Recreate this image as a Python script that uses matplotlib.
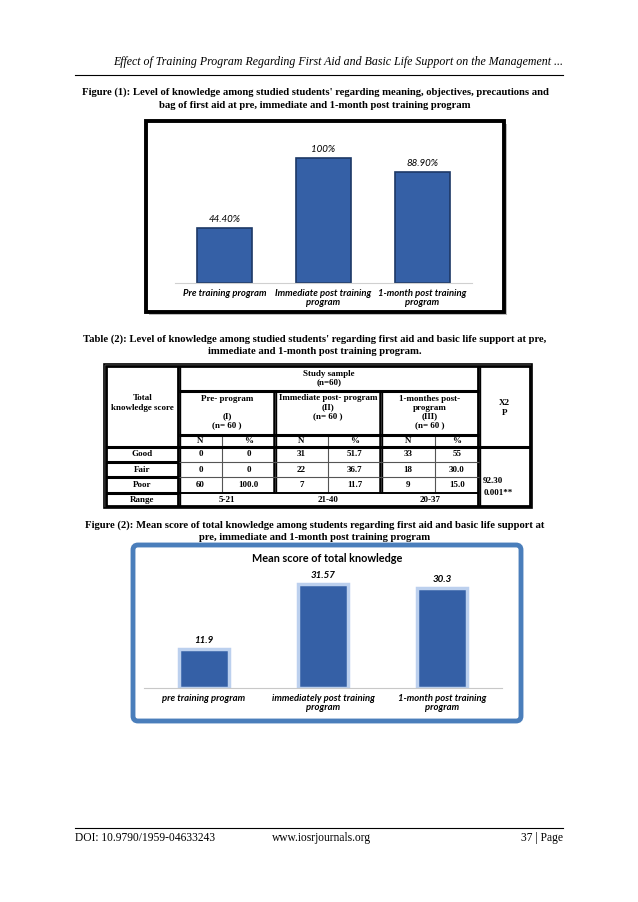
import matplotlib.pyplot as plt
from matplotlib.patches import Rectangle, FancyBboxPatch

# donnees figure 1
cat1 = ['Pre training program', 'Immediate post training\nprogram', '1-month post training\nprogram']
val1 = [44.4, 100, 88.9]
lab1 = ['44.40%', '100%', '88.90%']

# donnees tableau 2
rows = ['Good', 'Fair', 'Poor']
pre_n = ['0', '0', '60']
pre_pct = ['0', '0', '100.0']
imm_n = ['31', '22', '7']
imm_pct = ['51.7', '36.7', '11.7']
mon_n = ['33', '18', '9']
mon_pct = ['55', '30.0', '15.0']
ranges = ['5-21', '21-40', '20-37']
chi2 = '92.30'
pval = '0.001**'

# donnees figure 2
cat2 = ['pre training program', 'immediately post training\nprogram', '1-month post training\nprogram']
val2 = [11.9, 31.57, 30.3]
lab2 = ['11.9', '31.57', '30.3']

W, H = 638, 902
SERIF = 'Liberation Serif'
SANS = 'Lato'
BLUE = '#3560A6'

fig = plt.figure(figsize=(W / 100, H / 100), dpi=100)
page = fig.add_axes([0, 0, 1, 1])
page.set_xlim(0, W)
page.set_ylim(H, 0)
page.axis('off')


def box_axes(l, t, r, b):
    return fig.add_axes([l / W, 1 - b / H, (r - l) / W, (b - t) / H])


# entete et pied de page
page.text(563, 62, 'Effect of Training Program Regarding First Aid and Basic Life Support on the Management ...',
          family=SERIF, style='italic', fontsize=8.6, ha='right', va='center')
page.plot([75, 563], [75, 75], color='black', lw=0.8)
page.plot([75, 563], [828, 828], color='black', lw=0.8)
page.text(75, 838, 'DOI: 10.9790/1959-04633243', family=SERIF, fontsize=8.3, ha='left', va='center')
page.text(322, 838, 'www.iosrjournals.org', family=SERIF, fontsize=8.3, ha='center', va='center')
page.text(563, 838, '37 | Page', family=SERIF, fontsize=8.3, ha='right', va='center')

# legendes
cap = dict(family=SERIF, weight='bold', fontsize=7.7, ha='center', va='center')
page.text(315, 92, "Figure (1): Level of knowledge among studied students' regarding meaning, objectives, precautions and", **cap)
page.text(315, 105, 'bag of first aid at pre, immediate and 1-month post training program', **cap)
page.text(315, 339, "Table (2): Level of knowledge among studied students' regarding first aid and basic life support at pre,", **cap)
page.text(315, 352, 'immediate and 1-month post training program.', **cap)
page.text(315, 525, 'Figure (2): Mean score of total knowledge among students regarding first aid and basic life support at', **cap)
page.text(315, 538, 'pre, immediate and 1-month post training program', **cap)

# cadre figure 1
page.add_patch(Rectangle((149, 124), 358, 191, facecolor='#bbbbbb', edgecolor='none'))
page.add_patch(Rectangle((146, 121), 358, 191, facecolor='white', edgecolor='black', lw=2.8))

ax1 = box_axes(175, 140, 472, 283)
x = range(len(val1))
ax1.bar(x, val1, width=0.56, color=BLUE, edgecolor='#1d3866', lw=1.2)
for i, v in enumerate(val1):
    ax1.text(i, v + 3, lab1[i], ha='center', va='bottom', family=SANS, style='italic', fontsize=7)
ax1.set_xlim(-0.5, 2.5)
ax1.set_ylim(0, 114.5)
ax1.set_facecolor('none')
for s in ['top', 'right', 'left']:
    ax1.spines[s].set_visible(False)
ax1.spines['bottom'].set_color('#d0d0d0')
ax1.set_yticks([])
ax1.set_xticks(list(x))
ax1.set_xticklabels(cat1, family=SANS, style='italic', weight='bold', fontsize=6.8, linespacing=1.1)
ax1.tick_params(axis='x', length=0, pad=4)

# tableau 2
c = [106, 179, 222, 275, 328, 381, 435, 479, 530]
r = [366, 391, 435, 447, 462, 477, 493, 506]
tk = dict(family=SERIF, weight='bold', fontsize=6.5, ha='center', va='center')


def hline(y, x0, x1, lw=2.0, col='black'):
    page.plot([x0, x1], [y, y], color=col, lw=lw, solid_capstyle='butt')


def vline(xx, y0, y1, lw=2.0, col='black'):
    page.plot([xx, xx], [y0, y1], color=col, lw=lw, solid_capstyle='butt')


page.add_patch(Rectangle((c[0] - 2, r[0] - 2), c[-1] - c[0] + 4, r[-1] - r[0] + 4,
                         fill=False, edgecolor='black', lw=1.2))
page.add_patch(Rectangle((c[0], r[0]), c[-1] - c[0], r[-1] - r[0], fill=False, edgecolor='black', lw=2.0))
for xx in [c[1], c[7]]:
    vline(xx - 1, r[0], r[-1])
    vline(xx + 1, r[0], r[-1], lw=1.0)
for xx in [c[3], c[5]]:
    vline(xx - 1, r[1], r[6], lw=1.8)
    vline(xx + 1, r[1], r[6], lw=1.0)
for xx in [c[2], c[4], c[6]]:
    vline(xx, r[2], r[6], lw=0.8, col='#555555')
hline(r[1], c[1], c[7], lw=2.2)
hline(r[2], c[1], c[7], lw=2.2)
hline(r[3], c[0], c[-1], lw=2.2)
for yy in [r[4], r[5], r[6]]:
    hline(yy, c[0], c[1], lw=2.2)
hline(r[4], c[1], c[7], lw=0.8, col='#555555')
hline(r[5], c[1], c[7], lw=0.8, col='#555555')
hline(r[6], c[1], c[7], lw=1.4)

page.text((c[1] + c[7]) / 2, 378, 'Study sample\n(n=60)', linespacing=1.1, **tk)
page.text((c[0] + c[1]) / 2, 403, 'Total\nknowledge score', linespacing=1.2, **tk)
page.text((c[1] + c[3]) / 2, 412, 'Pre- program\n\n(I)\n(n= 60 )', linespacing=1.15, **tk)
page.text((c[3] + c[5]) / 2, 407, 'Immediate post- program\n(II)\n(n= 60 )', linespacing=1.15, **tk)
page.text((c[5] + c[7]) / 2, 412, '1-monthes post-\nprogram\n(III)\n(n= 60 )', linespacing=1.15, **tk)
page.text((c[7] + c[8]) / 2, 408, 'X2\nP', linespacing=1.2, **tk)
for j in range(3):
    page.text((c[1 + 2 * j] + c[2 + 2 * j]) / 2, 441, 'N', **tk)
    page.text((c[2 + 2 * j] + c[3 + 2 * j]) / 2, 441, '%', **tk)
for i, name in enumerate(rows):
    yy = (r[3 + i] + r[4 + i]) / 2
    page.text((c[0] + c[1]) / 2, yy, name, **tk)
    vals = [pre_n[i], pre_pct[i], imm_n[i], imm_pct[i], mon_n[i], mon_pct[i]]
    for k, v in enumerate(vals):
        page.text((c[1 + k] + c[2 + k]) / 2, yy, v, **tk)
yy = (r[6] + r[7]) / 2
page.text((c[0] + c[1]) / 2, yy, 'Range', **tk)
for j, v in enumerate(ranges):
    page.text((c[1 + 2 * j] + c[3 + 2 * j]) / 2, yy, v, **tk)
page.text(c[7] + 4, 481, chi2, **{**tk, 'ha': 'left'})
page.text(c[7] + 5, 493, pval, **{**tk, 'ha': 'left'})

# cadre figure 2
page.add_patch(FancyBboxPatch((133, 545), 388, 176, boxstyle='round,pad=0,rounding_size=5',
                              facecolor='white', edgecolor='#4a7ebb', lw=3.5))
page.text(327, 558, 'Mean score of total knowledge', family=SANS, weight='bold', fontsize=7.8,
          ha='center', va='center')

ax2 = box_axes(144, 573, 502, 688)
x = range(len(val2))
ax2.bar(x, val2, width=0.42, color=BLUE, edgecolor='#bcd0ee', lw=2.5)
for i, v in enumerate(val2):
    ax2.text(i, v + 1.2, lab2[i], ha='center', va='bottom', family=SANS, style='italic', weight='bold', fontsize=7)
ax2.set_xlim(-0.5, 2.5)
ax2.set_ylim(0, 35)
ax2.set_facecolor('none')
for s in ['top', 'right', 'left']:
    ax2.spines[s].set_visible(False)
ax2.spines['bottom'].set_color('#c8c8c8')
ax2.set_yticks([])
ax2.set_xticks(list(x))
ax2.set_xticklabels(cat2, family=SANS, style='italic', weight='bold', fontsize=6.8, linespacing=1.1)
ax2.tick_params(axis='x', length=0, pad=4)

fig.savefig('out.png', dpi=100)
